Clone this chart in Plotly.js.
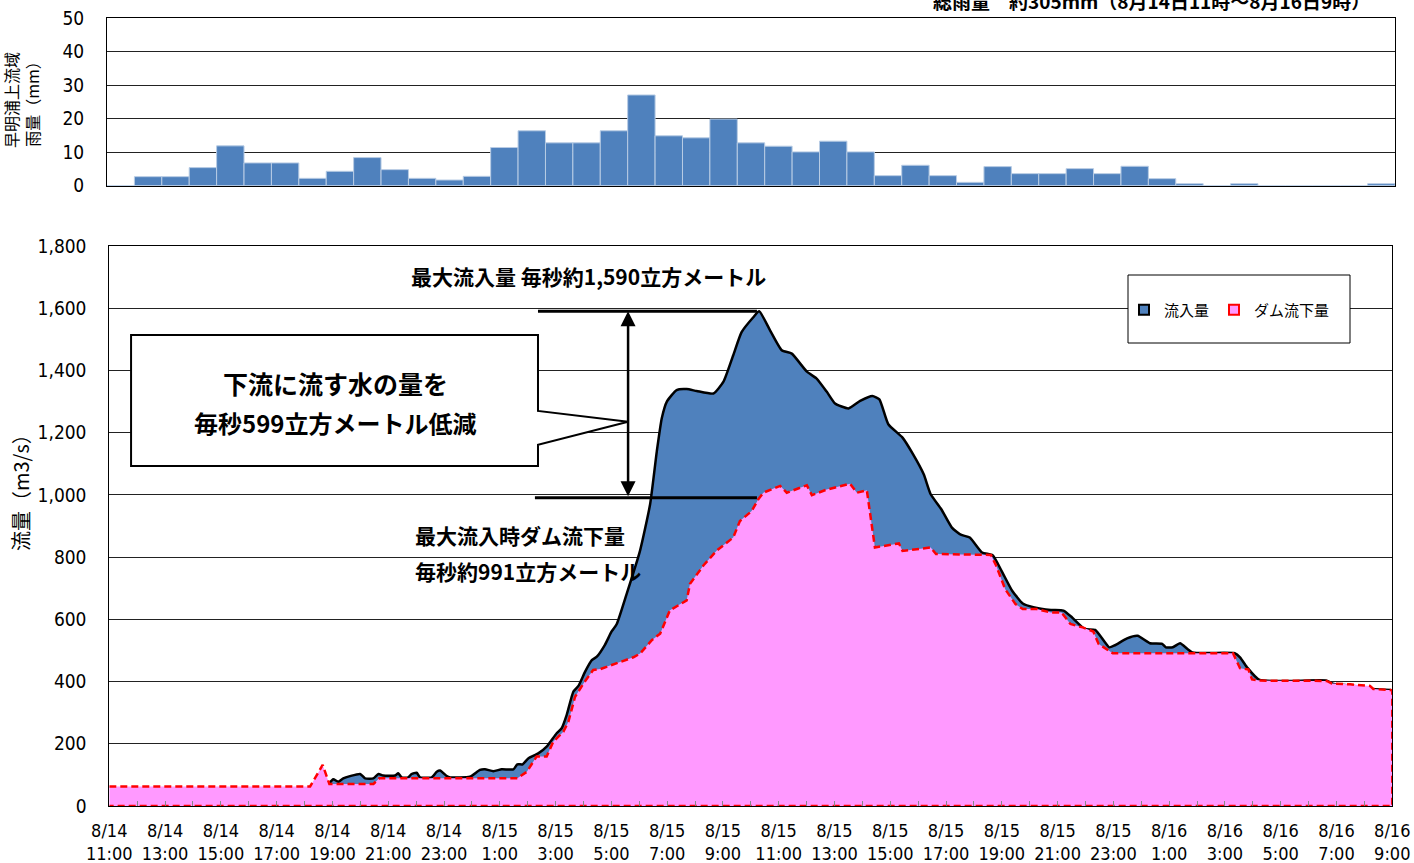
<!DOCTYPE html>
<html>
<head>
<meta charset="utf-8">
<script src="https://cdn.plot.ly/plotly-3.0.1.min.js"></script>
<style>
html,body{margin:0;padding:0;background:#fff;}
#chart{width:1414px;height:863px;}
</style>
</head>
<body>
<div id="chart"></div>
<script>
// ---------- DATA ----------
// Hourly basin rainfall (mm), 8/14 11:00 ... 8/16 9:00 (47 hours)
const rainfall = [0,2.7,2.7,5.4,11.9,6.8,6.8,2.2,4.3,8.4,4.8,2.2,1.7,2.8,11.4,16.4,12.8,12.8,16.4,27.1,
  14.9,14.3,19.9,12.8,11.8,10.1,13.3,10.1,3.0,6.1,3.0,1.0,5.7,3.6,3.6,5.1,3.6,5.8,2.1,0.6,
  0,0.6,0,0,0,0,0.6];

// Inflow (m3/s); time in hours after 8/14 11:00
const inflowHours = [7.89,8.03,8.21,8.39,8.63,8.99,9.17,9.47,9.65,9.82,10.24,10.36,10.48,10.72,10.84,11.02,11.14,11.56,11.74,11.86,
  12.10,12.22,12.93,13.29,13.47,13.77,14.07,14.49,14.63,14.82,15.02,15.38,15.68,16.04,16.22,16.40,16.64,16.82,17.06,17.30,
  17.48,17.77,18.01,18.19,18.55,19.03,19.39,19.63,19.81,19.99,20.34,20.70,21.06,21.66,22.02,22.37,22.67,23.09,23.30,23.69,
  24.11,24.47,25.01,25.36,25.72,26.02,26.50,26.92,27.36,27.61,27.93,28.44,28.82,29.20,29.45,29.83,30.21,30.53,30.85,31.29,
  31.67,31.99,32.37,32.75,33.13,33.76,34.21,34.52,34.97,35.35,35.85,36.04,36.49,36.87,37.31,37.75,37.88,38.13,38.39,38.83,
  40.35,40.54,40.79,41.24,43.65,43.90,44.53,45.23,45.93,46.00];
const inflow = [73,86,78,89,96,103,89,89,103,98,98,105,92,92,103,107,92,92,110,114,
  96,92,94,116,118,112,118,118,134,134,153,169,191,234,250,293,368,386,432,469,
  480,518,561,584,682,821,970,1140,1247,1300,1337,1340,1334,1326,1364,1449,1523,1571,1590,1529,
  1465,1454,1396,1374,1332,1294,1278,1302,1318,1307,1227,1184,1130,1066,1002,954,895,872,863,815,
  806,756,692,651,639,630,628,606,569,566,510,516,539,547,523,521,510,510,523,494,
  491,478,446,405,403,392,387,376,373,371];

// Dam outflow (m3/s)
const outflowHours = [0,7.20,7.65,7.89,9.47,9.68,14.63,14.97,15.32,15.68,15.92,16.28,16.46,16.70,17.00,17.35,17.60,18.19,18.79,19.03,
  19.45,19.75,20.10,20.70,20.82,21.30,21.78,22.37,22.61,23.03,23.27,23.45,24.05,24.29,25.01,25.19,25.72,26.56,26.80,27.16,
  27.45,28.31,28.44,29.45,29.64,31.61,31.80,32.12,32.49,32.75,33.25,33.76,34.14,34.46,34.90,35.28,35.47,35.98,40.29,40.54,
  40.84,40.97,41.26,43.65,43.83,44.49,45.20,45.32,45.92,46.00];
const outflow = [63,63,132,71,71,89,89,110,159,159,207,239,271,351,394,437,440,459,478,490,
  533,554,629,661,714,773,821,863,916,948,986,1007,1029,1007,1031,999,1017,1036,1007,1015,
  831,844,820,831,810,807,772,697,649,633,633,622,622,585,574,561,521,491,491,443,
  439,407,403,402,394,391,386,376,373,372];

const tickLabels = ['8/14<br>11:00','8/14<br>13:00','8/14<br>15:00','8/14<br>17:00','8/14<br>19:00','8/14<br>21:00','8/14<br>23:00',
  '8/15<br>1:00','8/15<br>3:00','8/15<br>5:00','8/15<br>7:00','8/15<br>9:00','8/15<br>11:00','8/15<br>13:00','8/15<br>15:00',
  '8/15<br>17:00','8/15<br>19:00','8/15<br>21:00','8/15<br>23:00','8/16<br>1:00','8/16<br>3:00','8/16<br>5:00','8/16<br>7:00','8/16<br>9:00'];

const peakInflow = 1590;
const outflowAtPeak = 991;
const seriesNames = ['流入量', 'ダム流下量'];

// ---------- STYLE ----------
const NARROW = "'Liberation Sans Narrow','DejaVu Sans Condensed','Arial Narrow',sans-serif";
const JP = "'Noto Sans CJK JP','Noto Sans CJK SC',sans-serif";
const W = 1414, H = 863;
const px = v => v / W;
const py = v => 1 - v / H;

const tickVals = tickLabels.map((_, i) => i * 2);
const rainX = rainfall.map((_, i) => i);

// outflow drawn as closed area (Excel-like border incl. baseline)
const outX = outflowHours.concat([outflowHours[outflowHours.length - 1], outflowHours[0]]);
const outY = outflow.concat([0, 0]);

const traces = [
  {
    type: 'bar', x: rainX, y: rainfall, xaxis: 'x', yaxis: 'y', width: 1,
    marker: {color: '#4F81BD', line: {color: '#b8cce4', width: 1}},
    showlegend: false, hoverinfo: 'y'
  },
  {
    type: 'scatter', mode: 'lines', x: inflowHours, y: inflow, xaxis: 'x2', yaxis: 'y2',
    name: seriesNames[0], fill: 'tozeroy', fillcolor: '#4F81BD', showlegend: false,
    line: {color: '#000000', width: 2.5, shape: 'spline', smoothing: 0.5}
  },
  {
    type: 'scatter', mode: 'lines', x: outX, y: outY, xaxis: 'x2', yaxis: 'y2',
    name: seriesNames[1], fill: 'toself', fillcolor: '#FF99FF', showlegend: false,
    line: {color: '#FF0000', width: 2.5, dash: '7px,4px'}
  },
  // legend keys (square swatches like the original)
  {
    type: 'scatter', mode: 'markers', x: [null], y: [null], xaxis: 'x2', yaxis: 'y2',
    name: seriesNames[0],
    marker: {symbol: 'square', size: 10, color: '#4F81BD', line: {color: '#000', width: 2}}
  },
  {
    type: 'scatter', mode: 'markers', x: [null], y: [null], xaxis: 'x2', yaxis: 'y2',
    name: seriesNames[1],
    marker: {symbol: 'square', size: 10, color: '#FF99FF', line: {color: '#FF0000', width: 2}}
  }
];

const layout = {
  width: W, height: H,
  margin: {l: 0, r: 0, t: 0, b: 0},
  paper_bgcolor: '#ffffff', plot_bgcolor: '#ffffff',
  showlegend: true,
  legend: {
    orientation: 'h', x: px(1124), y: py(310), xanchor: 'left', yanchor: 'middle',
    bgcolor: 'rgba(0,0,0,0)', borderwidth: 0, itemwidth: 30,
    font: {family: JP, size: 15, color: '#000'}
  },
  xaxis: {
    domain: [px(107), px(1395)], range: [-0.5, 46.5], anchor: 'y',
    showticklabels: false, ticks: '', showgrid: false, zeroline: false,
    showline: true, mirror: true, linecolor: '#000', linewidth: 1.5, fixedrange: true
  },
  yaxis: {
    domain: [py(185.7), py(18.3)], range: [0, 50], dtick: 10, anchor: 'x',
    showgrid: true, gridcolor: '#222', gridwidth: 1, zeroline: false,
    showline: true, mirror: true, linecolor: '#000', linewidth: 1,
    ticks: '', ticklabelstandoff: 18,
    tickfont: {family: NARROW, size: 19, color: '#000'}, automargin: false
  },
  xaxis2: {
    domain: [px(109.3), px(1392.3)], range: [0, 46], anchor: 'y2',
    tickmode: 'array', tickvals: tickVals, ticktext: tickLabels,
    ticks: 'inside', ticklen: 5, tickcolor: '#888', tickwidth: 1,
    minor: {dtick: 1, tick0: 0, ticks: 'inside', ticklen: 5, tickcolor: '#888', showgrid: false},
    showgrid: false, zeroline: false, showline: true, mirror: true, linecolor: '#000', linewidth: 1,
    ticklabelstandoff: 8,
    tickfont: {family: NARROW, size: 18, color: '#000'}, automargin: false, fixedrange: true
  },
  yaxis2: {
    domain: [py(806), py(246)], range: [0, 1800], dtick: 200, anchor: 'x2',
    tickformat: ',d', showgrid: true, gridcolor: '#222', gridwidth: 1, zeroline: false,
    showline: true, mirror: true, linecolor: '#000', linewidth: 1,
    ticks: '', ticklabelstandoff: 18,
    tickfont: {family: NARROW, size: 19, color: '#000'}, automargin: false
  },
  shapes: [
    // legend box
    {type: 'rect', xref: 'paper', yref: 'paper', x0: px(1128), x1: px(1350), y0: py(343), y1: py(275),
      fillcolor: '#fff', line: {color: '#000', width: 1}, layer: 'above'},
    // callout box
    {type: 'path', xref: 'x2', yref: 'y2', layer: 'above',
      path: 'M 0.78,1514 L 15.37,1514 L 15.37,1270 L 18.6,1235 L 15.37,1161 L 15.37,1093 L 0.78,1093 Z',
      fillcolor: '#fff', line: {color: '#000', width: 2}},
    // horizontal marker lines
    {type: 'line', xref: 'x2', yref: 'y2', x0: 15.37, x1: 23.22, y0: peakInflow, y1: peakInflow,
      line: {color: '#000', width: 3}, layer: 'above'},
    {type: 'line', xref: 'x2', yref: 'y2', x0: 15.26, x1: 23.22, y0: outflowAtPeak, y1: outflowAtPeak,
      line: {color: '#000', width: 3}, layer: 'above'}
  ],
  annotations: [
    {xref: 'paper', yref: 'paper', x: px(1372), y: py(1), xanchor: 'right', yanchor: 'middle',
      text: '<b>総雨量\u3000約305mm（8月14日11時～8月16日9時）</b>', showarrow: false,
      font: {family: JP, size: 19, color: '#000'}},
    {xref: 'paper', yref: 'paper', x: px(22), y: py(100), xanchor: 'center', yanchor: 'middle',
      text: '早明浦上流域<br>雨量（mm）', textangle: -90, showarrow: false,
      font: {family: JP, size: 16, color: '#000'}},
    {xref: 'paper', yref: 'paper', x: px(20), y: py(488), xanchor: 'center', yanchor: 'middle',
      text: '流量（m3/s）', textangle: -90, showarrow: false,
      font: {family: JP, size: 20, color: '#000'}},
    {xref: 'x2', yref: 'y2', x: 17.17, y: 1704, xanchor: 'center', yanchor: 'middle', showarrow: false,
      text: '<b>最大流入量 毎秒約' + peakInflow.toLocaleString('en-US') + '立方メートル</b>',
      font: {family: JP, size: 21, color: '#000'}},
    {xref: 'x2', yref: 'y2', x: 8.1, y: 1360, xanchor: 'center', yanchor: 'middle', showarrow: false,
      text: '<b>下流に流す水の量を</b>', font: {family: JP, size: 25, color: '#000'}},
    {xref: 'x2', yref: 'y2', x: 8.1, y: 1232, xanchor: 'center', yanchor: 'middle', showarrow: false,
      text: '<b>毎秒' + (peakInflow - outflowAtPeak) + '立方メートル低減</b>', font: {family: JP, size: 24, color: '#000'}},
    {xref: 'x2', yref: 'y2', x: 10.9, y: 871, xanchor: 'left', yanchor: 'middle', showarrow: false,
      text: '<b>最大流入時ダム流下量</b>', font: {family: JP, size: 21, color: '#000'}},
    {xref: 'x2', yref: 'y2', x: 10.9, y: 756, xanchor: 'left', yanchor: 'middle', showarrow: false,
      text: '<b>毎秒約' + outflowAtPeak + '立方メートル</b>', font: {family: JP, size: 21, color: '#000'}},
    // double-headed arrow
    {xref: 'x2', yref: 'y2', axref: 'x2', ayref: 'y2', x: 18.6, y: peakInflow, ax: 18.6, ay: outflowAtPeak,
      text: '', showarrow: true, arrowhead: 2, startarrowhead: 2, arrowside: 'end+start',
      arrowsize: 1.2, startarrowsize: 1.2, arrowwidth: 2.5, arrowcolor: '#000', standoff: 0, startstandoff: 0}
  ]
};

Plotly.newPlot('chart', traces, layout, {staticPlot: true, displayModeBar: false});
</script>
</body>
</html>
